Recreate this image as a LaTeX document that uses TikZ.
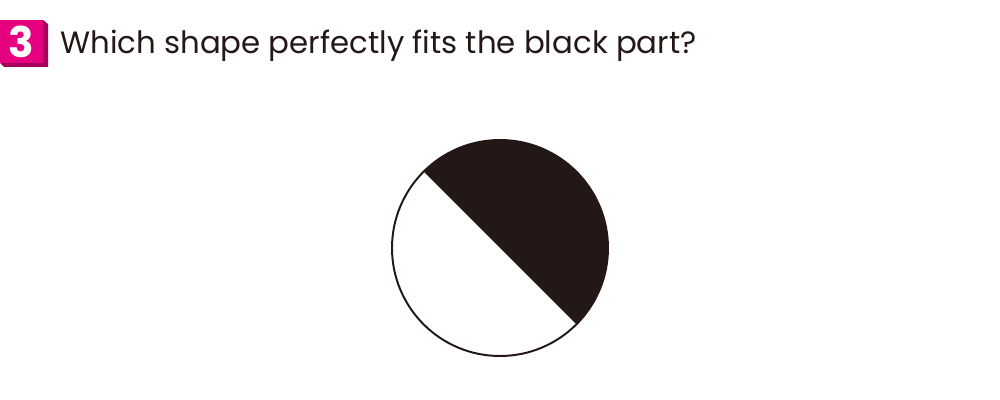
\documentclass[tikz,border=0pt]{standalone}
\usepackage{fontspec}
\setmainfont{Poppins}
\usetikzlibrary{positioning}
\definecolor{inkblack}{HTML}{231815}
\definecolor{badgepink}{HTML}{E4007F}
\definecolor{badgeshade}{HTML}{A6005C}

\begin{document}
\begin{tikzpicture}[
    x=0.025cm, y=0.025cm,
    badge/.style={
        fill=badgepink,
        text=white,
        minimum size=1.075cm,
        inner sep=0pt,
        font=\fontsize{30}{30}\selectfont\bfseries
    },
    question/.style={
        anchor=base west,
        inner sep=0pt,
        text=inkblack,
        font=\fontsize{21.9}{26}\selectfont
    },
    ring/.style={draw=inkblack, line width=1.4pt}
]
\useasboundingbox (0,0) rectangle (1000,-400);

% --- badge ---
\fill[badgeshade] (43,-20) -- (48,-24) -- (48,-67) -- (4,-67) -- (0,-63) -- (43,-63) -- cycle;
\node[badge] (num) at (21.5,-41.5) {3};

% --- question ---
\node[question] (title) at (60,-54) {Which shape perfectly fits the black part?};

% --- circle ---
\coordinate (c) at (500,-248);
\fill[inkblack] (c) ++(135:108) arc[start angle=135, end angle=-45, radius=108] -- cycle;
\draw[ring] (c) circle[radius=108];

\end{tikzpicture}
\end{document}
